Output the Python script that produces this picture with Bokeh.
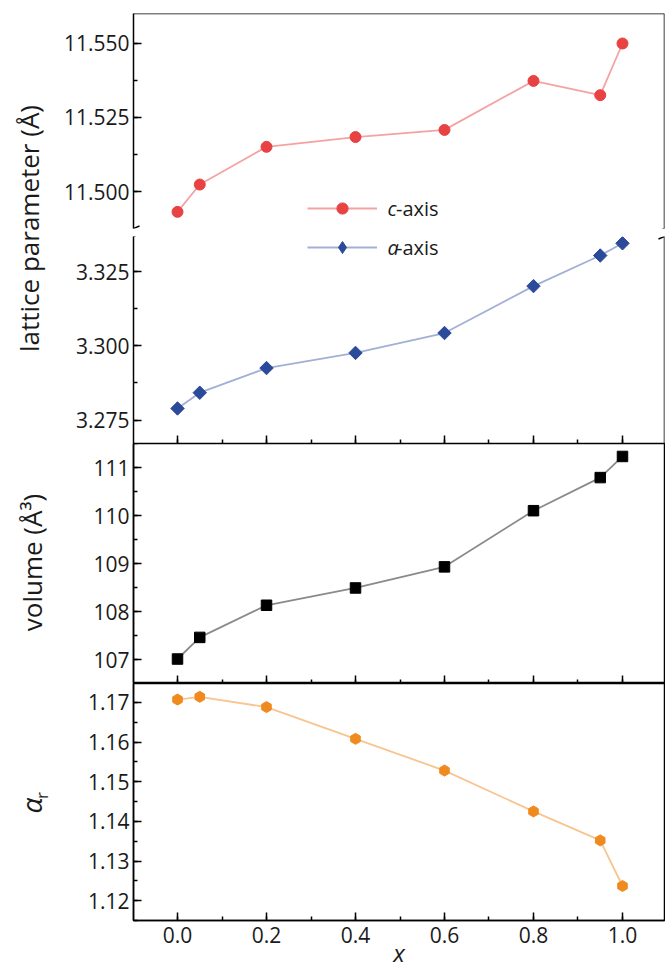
import numpy as np
from bokeh.plotting import figure
from bokeh.models import (Range1d, SingleIntervalTicker, NumeralTickFormatter, Span, Label,
                          Legend, LegendItem, Arrow)
from bokeh.layouts import row, column
from bokeh.embed import file_html
from bokeh.resources import INLINE
from bokeh.core.properties import value

# ---------------- data ----------------
x = [0.0, 0.05, 0.2, 0.4, 0.6, 0.8, 0.95, 1.0]
c_axis = [11.4932, 11.5024, 11.5151, 11.5184, 11.5208, 11.5373, 11.5325, 11.5499]
a_axis = [3.2789, 3.2842, 3.2925, 3.2976, 3.3043, 3.3201, 3.3304, 3.3345]
volume = [107.01, 107.46, 108.13, 108.49, 108.93, 110.10, 110.79, 111.23]
alpha_r = [1.1707, 1.1714, 1.1688, 1.1608, 1.1528, 1.1425, 1.1352, 1.1237]

x_label = "x"
legend_c = ("c", "-axis")
legend_a = ("a", "-axis")

# ---------------- style ----------------
FONT = "Open Sans"
TXT = "#1a1a1a"
XR = (-0.0989, 1.0944)
C_RANGE = (11.4876, 11.5600)
A_RANGE = (3.2671, 3.3368)
V_RANGE = (106.5, 111.5)
R_RANGE = (1.11500, 1.17475)

C_MARK, C_LINE = "#E84242", "#F3A3A3"
A_MARK, A_LINE = "#2B4A9A", "#A2AFD6"
V_MARK, V_LINE = "#000000", "#8A8A8A"
R_MARK, R_LINE = "#F08A1E", "#F8C48F"

LAB_W = 56
MAIN_W = 665 - LAB_W
LEFT = 133 - LAB_W


def make_fig(h, yr, top, bottom, with_x=True):
    p = figure(width=MAIN_W, height=h, x_range=Range1d(*XR), y_range=Range1d(*yr),
               output_backend="svg", toolbar_location=None, title=None,
               min_border_left=LEFT, min_border_right=1, min_border_top=top,
               min_border_bottom=bottom,
               x_axis_location="below" if with_x else None)
    p.grid.visible = False
    p.background_fill_color = "white"
    p.border_fill_color = "white"
    return p


def style_axis(ax, interval, fmt, labels=True, standoff=4):
    ax.ticker = SingleIntervalTicker(interval=interval, num_minor_ticks=2)
    ax.formatter = NumeralTickFormatter(format=fmt)
    ax.major_tick_in = 8
    ax.major_tick_out = 0
    ax.minor_tick_in = 4
    ax.minor_tick_out = 0
    for attr in ("axis_line", "major_tick_line", "minor_tick_line"):
        setattr(ax, attr + "_color", "black")
        setattr(ax, attr + "_width", 1.5)
    ax.major_label_text_font = FONT
    ax.major_label_text_font_size = "21px"
    ax.major_label_text_color = TXT
    ax.major_label_standoff = standoff
    if not labels:
        ax.major_label_text_font_size = "0px"
        ax.major_label_text_color = None
        ax.major_label_standoff = 0


def brk(p, sx, sy):
    p.add_layout(Arrow(x_start=sx - 6, y_start=sy - 2.5, x_end=sx + 6, y_end=sy + 2.5,
                       start_units="screen", end_units="screen", start=None, end=None,
                       line_color="black", line_width=1.5))


def legend(p, renderers, loc, gh=28):
    leg = Legend(items=[LegendItem(label=value("-axis"), renderers=renderers)],
                 location=loc, glyph_width=70, glyph_height=gh, label_height=gh,
                 label_standoff=19, padding=0, margin=0, spacing=0,
                 border_line_color=None, background_fill_alpha=0,
                 label_text_font=FONT, label_text_font_size="20px",
                 label_text_color=TXT)
    p.add_layout(leg)


# ---------------- c-axis (top of lattice panel) ----------------
F1W, F1H = 531, 215
p1 = make_fig(230, C_RANGE, 13, 2, with_x=False)
p1.outline_line_color = None
style_axis(p1.yaxis[0], 0.025, "0.000")
c_l = p1.line(x, c_axis, line_color=C_LINE, line_width=1.8)
c_s = p1.scatter(x, c_axis, marker="circle", size=11, fill_color=C_MARK, line_color=C_MARK)
p1.add_layout(Span(location=C_RANGE[1], dimension="width", line_color="black", line_width=1.5))
p1.add_layout(Span(location=XR[1], dimension="height", line_color="black", line_width=1.5))
legend(p1, [c_l, c_s], (174, 6))
p1.add_layout(Label(x=254, y=20, x_units="screen", y_units="screen", text=legend_c[0],
                    text_font=FONT, text_font_style="italic", text_font_size="20px",
                    text_color=TXT, text_baseline="middle", text_align="left"))
brk(p1, 0, 0)
brk(p1, F1W, 0)

# ---------------- a-axis (bottom of lattice panel) ----------------
F2H = 207
p2 = make_fig(213, A_RANGE, 6, 0)
p2.outline_line_color = None
style_axis(p2.yaxis[0], 0.025, "0.000")
style_axis(p2.xaxis[0], 0.2, "0.0", labels=False)
a_l = p2.line(x, a_axis, line_color=A_LINE, line_width=1.8)
a_s = p2.scatter(x, a_axis, marker="square", angle=np.pi / 4, size=9.5,
                 fill_color=A_MARK, line_color=A_MARK)
# legend key: the same series as a diamond marker, hidden in the plot, shown in the legend
a_key = p2.scatter(x, a_axis, marker="diamond", size=14, fill_color=A_MARK,
                   line_color=A_MARK, visible=False)
p2.add_layout(Span(location=XR[1], dimension="height", line_color="black", line_width=1.5))
legend(p2, [a_l, a_key], (174, F2H - 11 - 15), gh=30)
p2.add_layout(Label(x=254, y=F2H - 11, x_units="screen", y_units="screen", text=legend_a[0],
                    text_font=FONT, text_font_style="italic", text_font_size="20px",
                    text_color=TXT, text_baseline="middle", text_align="left"))
brk(p2, 0, F2H)
brk(p2, F1W, F2H)

# ---------------- volume ----------------
p3 = make_fig(240, V_RANGE, 0, 0)
p3.outline_line_color = "black"
p3.outline_line_width = 1.5
style_axis(p3.yaxis[0], 1, "0")
style_axis(p3.xaxis[0], 0.2, "0.0", labels=False)
p3.line(x, volume, line_color=V_LINE, line_width=1.8)
p3.scatter(x, volume, marker="square", size=10.5, fill_color=V_MARK, line_color=V_MARK)

# ---------------- alpha_r ----------------
p4 = make_fig(288, R_RANGE, 0, 49)
p4.outline_line_color = "black"
p4.outline_line_width = 1.5
style_axis(p4.yaxis[0], 0.01, "0.00")
style_axis(p4.xaxis[0], 0.2, "0.0", labels=True, standoff=6)
p4.xaxis[0].axis_label = x_label
p4.xaxis[0].axis_label_text_font = FONT
p4.xaxis[0].axis_label_text_font_style = "italic"
p4.xaxis[0].axis_label_text_font_size = "24px"
p4.xaxis[0].axis_label_text_color = TXT
p4.xaxis[0].axis_label_standoff = -10
p4.line(x, alpha_r, line_color=R_LINE, line_width=1.8)
p4.scatter(x, alpha_r, marker="hex", angle=np.pi / 2, size=11, fill_color=R_MARK, line_color=R_MARK)

# ---------------- y-axis titles ----------------
TOTAL_H = 230 + 213 + 240 + 288
lab = figure(width=LAB_W, height=TOTAL_H, x_range=Range1d(0, LAB_W), y_range=Range1d(TOTAL_H, 0),
             output_backend="svg", toolbar_location=None, title=None, min_border=0,
             x_axis_location=None, y_axis_location=None)
lab.outline_line_color = None
lab.grid.visible = False
common = dict(angle=np.pi / 2, text_align="center", text_baseline="middle",
              text_font=FONT, text_color=TXT)
lab.add_layout(Label(x=28, y=228, text="lattice parameter (Å)", text_font_size="26px", **common))
lab.add_layout(Label(x=31, y=562, text="volume (Å³)", text_font_size="26px", **common))
lab.add_layout(Label(x=30, y=805, text="α", text_font_size="28px", text_font_style="italic", **common))
lab.add_layout(Label(x=41, y=795, text="r", text_font_size="17px", **common))

layout = row(lab, column(p1, p2, p3, p4))

open("out.html", "w").write(file_html(layout, INLINE))
